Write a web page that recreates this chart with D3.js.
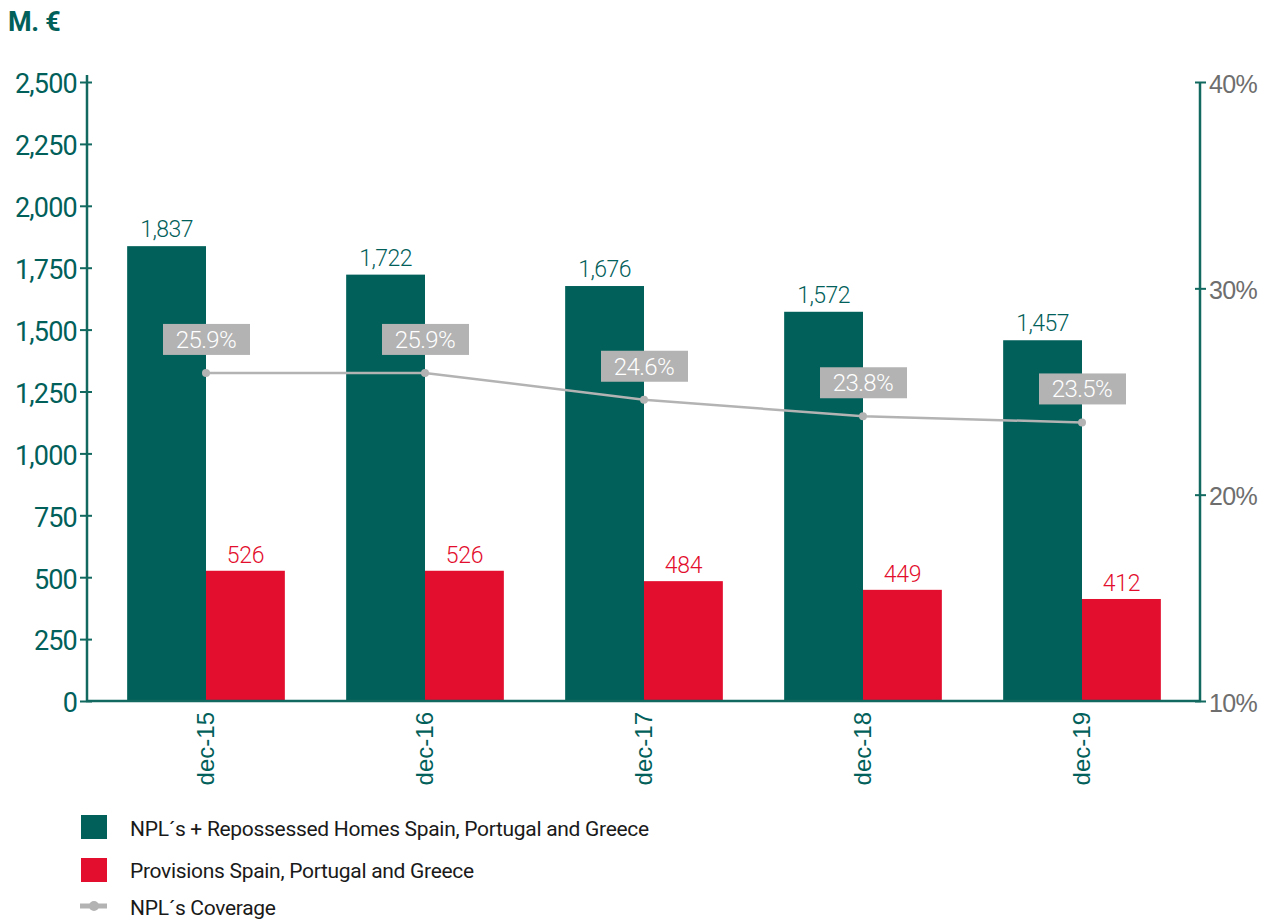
<!DOCTYPE html>
<html>
<head>
<meta charset="utf-8">
<script src="https://cdn.jsdelivr.net/npm/d3@7"></script>
<style>
  html, body { margin: 0; padding: 0; background: #fff; }
  svg { display: block; font-family: Roboto, "Liberation Sans", sans-serif; }
</style>
</head>
<body>
<svg id="chart" width="1270" height="922"></svg>
<script>
const categories = ["dec-15", "dec-16", "dec-17", "dec-18", "dec-19"];
const nplValues = [1837, 1722, 1676, 1572, 1457];
const provisionValues = [526, 526, 484, 449, 412];
const coverageValues = [25.9, 25.9, 24.6, 23.8, 23.5];
const leftTicks = [0, 250, 500, 750, 1000, 1250, 1500, 1750, 2000, 2250, 2500];
const rightTicks = [10, 20, 30, 40];
const seriesNames = ["NPL´s + Repossessed Homes Spain, Portugal and Greece", "Provisions Spain, Portugal and Greece", "NPL´s Coverage"];

const GREEN = "#02605a", RED = "#e30d2d", GREY = "#b3b3b3", AXIS = "#11695f";

const svg = d3.select("#chart");
const plotLeft = 87, plotRight = 1200, plotTop = 82, plotBottom = 701;

const x = d3.scaleBand().domain(categories).range([96.5, 1191.5]).paddingInner(0.28).paddingOuter(0.14);
const xs = d3.scaleBand().domain(["npl", "prov"]).range([0, x.bandwidth()]);
const y = d3.scaleLinear().domain([0, 2500]).range([plotBottom, plotTop]);
const y2 = d3.scaleLinear().domain([10, 40]).range([plotBottom, plotTop]);

// title
svg.append("text").attr("x", 8).attr("y", 31).text("M. €")
  .attr("font-size", 27).attr("font-weight", 700).attr("fill", GREEN).attr("letter-spacing", -0.3);

// bars
const g = svg.append("g");
categories.forEach((c, i) => {
  const bx = x(c);
  g.append("rect").attr("x", bx + xs("npl")).attr("y", y(nplValues[i]))
    .attr("width", xs.bandwidth()).attr("height", y(0) - y(nplValues[i])).attr("fill", GREEN);
  g.append("rect").attr("x", bx + xs("prov")).attr("y", y(provisionValues[i]))
    .attr("width", xs.bandwidth()).attr("height", y(0) - y(provisionValues[i])).attr("fill", RED);
  g.append("text").attr("x", bx + xs("npl") + xs.bandwidth() / 2).attr("y", y(nplValues[i]) - 9)
    .attr("text-anchor", "middle").attr("font-size", 23).attr("font-weight", 300).attr("fill", GREEN)
    .attr("letter-spacing", -0.6).text(d3.format(",")(nplValues[i]));
  g.append("text").attr("x", bx + xs("prov") + xs.bandwidth() / 2).attr("y", y(provisionValues[i]) - 8)
    .attr("text-anchor", "middle").attr("font-size", 23).attr("font-weight", 300).attr("fill", RED)
    .attr("letter-spacing", -0.3).text(provisionValues[i]);
});

// left axis
const axL = svg.append("g").attr("transform", `translate(${plotLeft},0)`)
  .call(d3.axisLeft(y).tickValues(leftTicks).tickFormat(d3.format(",")).tickSize(10).tickPadding(0));
axL.select(".domain").remove();
axL.selectAll(".tick line").attr("x1", -7).attr("x2", 5).attr("stroke", AXIS).attr("stroke-width", 2);
axL.selectAll(".tick text").attr("font-size", 27).attr("fill", GREEN).attr("letter-spacing", -0.8)
  .attr("font-family", "Roboto").attr("dy", "0.4em");
svg.append("line").attr("x1", plotLeft).attr("x2", plotLeft).attr("y1", plotTop - 7).attr("y2", plotBottom + 1)
  .attr("stroke", AXIS).attr("stroke-width", 2.5);

// right axis
const axR = svg.append("g").attr("transform", `translate(${plotRight},0)`)
  .call(d3.axisRight(y2).tickValues(rightTicks).tickFormat(d => d + "%").tickSize(6).tickPadding(3));
axR.select(".domain").remove();
axR.selectAll(".tick line").attr("x1", -5).attr("x2", 6).attr("stroke", AXIS).attr("stroke-width", 2);
axR.selectAll(".tick text").attr("font-size", 25).attr("font-weight", 300).attr("fill", "#6e6e6e")
  .attr("letter-spacing", -0.6).attr("dy", "0.4em");
svg.append("line").attr("x1", plotRight).attr("x2", plotRight).attr("y1", plotTop).attr("y2", plotBottom + 1)
  .attr("stroke", AXIS).attr("stroke-width", 2.5);

// bottom axis
const axB = svg.append("g").attr("transform", `translate(0,${plotBottom})`)
  .call(d3.axisBottom(x).tickSize(0).tickPadding(0));
axB.select(".domain").remove();
axB.selectAll(".tick text").attr("font-size", 24).attr("fill", GREEN)
  .attr("transform", "rotate(-90)").attr("text-anchor", "end").attr("x", -11).attr("y", 0).attr("dy", "0.35em");
svg.append("line").attr("x1", plotLeft - 1).attr("x2", plotRight + 1).attr("y1", plotBottom).attr("y2", plotBottom)
  .attr("stroke", AXIS).attr("stroke-width", 2.5);

// coverage line
const cx = c => x(c) + x.bandwidth() / 2;
const line = d3.line().x((d, i) => cx(categories[i])).y(d => y2(d));
svg.append("path").datum(coverageValues).attr("d", line).attr("fill", "none")
  .attr("stroke", GREY).attr("stroke-width", 2.5);
coverageValues.forEach((v, i) => {
  const px = cx(categories[i]), py = y2(v);
  svg.append("circle").attr("cx", px).attr("cy", py).attr("r", 4).attr("fill", GREY);
  svg.append("rect").attr("x", px - 43).attr("y", py - 49).attr("width", 87).attr("height", 31).attr("fill", GREY);
  svg.append("text").attr("x", px).attr("y", py - 25).attr("text-anchor", "middle")
    .attr("font-size", 24).attr("font-weight", 300).attr("fill", "#fff").attr("letter-spacing", -0.6)
    .text(v.toFixed(1) + "%");
});

// legend
const lg = svg.append("g");
lg.append("rect").attr("x", 81).attr("y", 815).attr("width", 26).attr("height", 24).attr("fill", GREEN);
lg.append("rect").attr("x", 81).attr("y", 858).attr("width", 26).attr("height", 24).attr("fill", RED);
lg.append("line").attr("x1", 80).attr("x2", 107).attr("y1", 906).attr("y2", 906).attr("stroke", GREY).attr("stroke-width", 5);
lg.append("circle").attr("cx", 94).attr("cy", 906).attr("r", 5).attr("fill", GREY);
[836, 878, 915].forEach((yy, i) => {
  lg.append("text").attr("x", 130).attr("y", yy).attr("font-size", 21).attr("fill", "#1a1a1a")
    .attr("letter-spacing", -0.3).text(seriesNames[i]);
});
</script>
</body>
</html>
